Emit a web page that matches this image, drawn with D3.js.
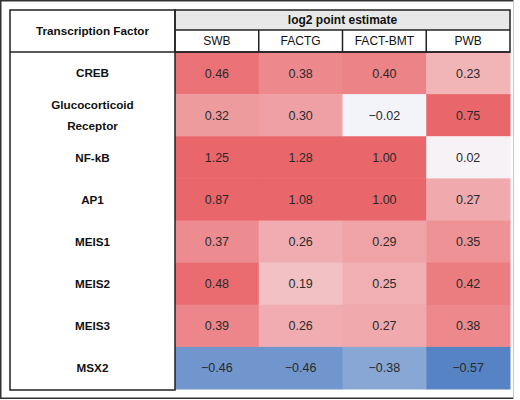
<!DOCTYPE html>
<html>
<head>
<meta charset="utf-8">
<script src="https://cdn.jsdelivr.net/npm/d3@7"></script>
<style>
  body { margin: 0; background: #fff; }
  text { font-family: "Liberation Sans", Arial, sans-serif; }
</style>
</head>
<body>
<div id="chart"></div>
<script>
var factors = ["CREB", "Glucocorticoid Receptor", "NF-kB", "AP1", "MEIS1", "MEIS2", "MEIS3", "MSX2"];
var measures = ["SWB", "FACTG", "FACT-BMT", "PWB"];
var swb     = [0.46, 0.32, 1.25, 0.87, 0.37, 0.48, 0.39, -0.46];
var factg   = [0.38, 0.30, 1.28, 1.08, 0.26, 0.19, 0.26, -0.46];
var factBmt = [0.40, -0.02, 1.00, 1.00, 0.29, 0.25, 0.27, -0.38];
var pwb     = [0.23, 0.75, 0.02, 0.27, 0.35, 0.42, 0.38, -0.57];
var headerTitle = "log2 point estimate";
var rowTitle = "Transcription Factor";

var columns = [swb, factg, factBmt, pwb];

var W = 520, H = 400;
// table edges (don't call these top/left, window.top is taken)
var tLeft = 10, tTop = 10, labelRight = 175, tRight = 510;
var headMid = 30, headBottom = 52, tBottom = 389;

var svg = d3.select("#chart").append("svg")
  .attr("width", W)
  .attr("height", H);

// outer frame
svg.append("path")
  .attr("d", "M513.5,0.75 H0.75 V398.25 H513.5")
  .attr("fill", "none")
  .attr("stroke", "#333")
  .attr("stroke-width", 1.5);
svg.append("line")
  .attr("x1", 513.5).attr("x2", 513.5).attr("y1", 0.75).attr("y2", 398.25)
  .attr("stroke", "#c8c8c8").attr("stroke-width", 1);

var x = d3.scaleBand().domain(measures).range([labelRight, tRight]);
var y = d3.scaleBand().domain(factors).range([headBottom, tBottom]);

var color = d3.scaleLinear()
  .domain([-0.55, 0, 0.5])
  .range(["#5683c4", "#f8f8fb", "#e9666a"])
  .clamp(true);

var cells = [];
measures.forEach(function(m, j) {
  factors.forEach(function(f, i) {
    cells.push({m: m, f: f, v: columns[j][i]});
  });
});

var fmt = function(v) {
  var s = d3.format(".2f")(Math.abs(v));
  return v < 0 ? "\u2212" + s : s;
};

svg.selectAll("rect.cell")
  .data(cells)
  .join("rect")
  .attr("class", "cell")
  .attr("x", function(d) { return x(d.m); })
  .attr("y", function(d) { return y(d.f); })
  .attr("width", x.bandwidth() + 0.5)
  .attr("height", y.bandwidth() + 0.5)
  .attr("fill", function(d) { return color(d.v); });

svg.selectAll("text.val")
  .data(cells)
  .join("text")
  .attr("class", "val")
  .attr("x", function(d) { return x(d.m) + x.bandwidth() / 2; })
  .attr("y", function(d) { return y(d.f) + y.bandwidth() / 2; })
  .attr("text-anchor", "middle")
  .attr("dy", "0.36em")
  .style("font-size", "12.5px")
  .style("fill", "#2a2a2a")
  .text(function(d) { return fmt(d.v); });

// header
svg.append("rect")
  .attr("x", labelRight).attr("y", tTop)
  .attr("width", tRight - labelRight).attr("height", headMid - tTop)
  .attr("fill", "#e8e8e8");

svg.append("text")
  .attr("x", (labelRight + tRight) / 2)
  .attr("y", (tTop + headMid) / 2)
  .attr("dy", "0.36em")
  .attr("text-anchor", "middle")
  .style("font-size", "12px")
  .style("font-weight", "bold")
  .style("fill", "#111")
  .text(headerTitle);

svg.selectAll("text.col")
  .data(measures)
  .join("text")
  .attr("class", "col")
  .attr("x", function(d) { return x(d) + x.bandwidth() / 2; })
  .attr("y", (headMid + headBottom) / 2)
  .attr("dy", "0.36em")
  .attr("text-anchor", "middle")
  .style("font-size", "12px")
  .style("fill", "#111")
  .text(function(d) { return d; });

// lines of the table
var lineColor = "#222";
svg.append("rect")
  .attr("x", tLeft).attr("y", tTop)
  .attr("width", labelRight - tLeft).attr("height", tBottom + 1 - tTop)
  .attr("fill", "none")
  .attr("stroke", lineColor).attr("stroke-width", 1.5);
svg.append("rect")
  .attr("x", labelRight).attr("y", tTop)
  .attr("width", tRight - labelRight).attr("height", headBottom - tTop)
  .attr("fill", "none")
  .attr("stroke", lineColor).attr("stroke-width", 1.5);
svg.append("line")
  .attr("x1", labelRight).attr("x2", tRight)
  .attr("y1", headMid).attr("y2", headMid)
  .attr("stroke", lineColor).attr("stroke-width", 1.5);
svg.selectAll("line.sep")
  .data(measures.slice(1))
  .join("line")
  .attr("class", "sep")
  .attr("x1", function(d) { return x(d); })
  .attr("x2", function(d) { return x(d); })
  .attr("y1", headMid).attr("y2", headBottom)
  .attr("stroke", lineColor).attr("stroke-width", 1.5);
svg.append("line")
  .attr("x1", tLeft).attr("x2", tRight)
  .attr("y1", headBottom).attr("y2", headBottom)
  .attr("stroke", lineColor).attr("stroke-width", 1.5);

// row titles
svg.append("text")
  .attr("x", (tLeft + labelRight) / 2)
  .attr("y", (tTop + headBottom) / 2)
  .attr("dy", "0.36em")
  .attr("text-anchor", "middle")
  .style("font-size", "11.7px")
  .style("font-weight", "bold")
  .style("fill", "#111")
  .text(rowTitle);

var labels = svg.selectAll("text.row")
  .data(factors)
  .join("text")
  .attr("class", "row")
  .attr("x", (tLeft + labelRight) / 2)
  .attr("y", function(d) { return y(d) + y.bandwidth() / 2; })
  .attr("text-anchor", "middle")
  .style("font-size", "11.7px")
  .style("font-weight", "bold")
  .style("fill", "#111");

labels.each(function(d) {
  var words = d.length > 14 ? d.split(" ") : [d];
  var t = d3.select(this);
  words.forEach(function(w, k) {
    t.append("tspan")
      .attr("x", (tLeft + labelRight) / 2)
      .attr("dy", k === 0 ? (0.36 - (words.length - 1) * 0.9) + "em" : "1.8em")
      .text(w);
  });
});
</script>
</body>
</html>
